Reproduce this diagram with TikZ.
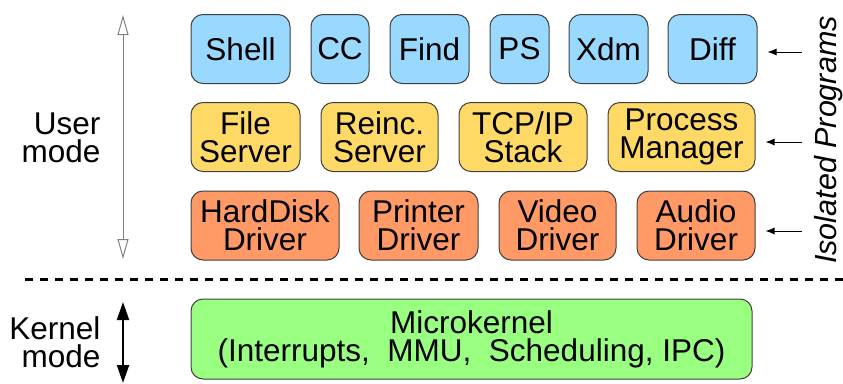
\documentclass[tikz,border=0pt]{standalone}
\usepackage{fontspec}
\setmainfont{Liberation Sans}
\usetikzlibrary{arrows.meta,positioning}

\definecolor{userblue}{RGB}{153,217,255}
\definecolor{serveryellow}{RGB}{255,217,102}
\definecolor{driverorange}{RGB}{255,153,102}
\definecolor{kernelgreen}{RGB}{153,255,128}

\begin{document}
\begin{tikzpicture}[
    x=1pt, y=-1pt,
    node distance = 20pt,
    every node/.style={font=\fontsize{31.5}{28}\selectfont},
    box/.style={
        draw=black!75,
        line width=1pt,
        rounded corners=12pt,
        align=center,
        minimum height=69pt,
        inner sep=0pt
    },
    prog/.style={box, fill=userblue},
    server/.style={box, fill=serveryellow},
    driver/.style={box, fill=driverorange},
    pointer/.style={-{Latex[length=9pt,width=7pt]}, line width=0.9pt},
    modearrow/.style={{Triangle[open,length=20pt,width=11pt]}-{Triangle[open,length=20pt,width=11pt]}, black!50, line width=1pt},
    kernelarrow/.style={{Triangle[length=18pt,width=12pt]}-{Triangle[length=18pt,width=12pt]}, line width=2pt},
    divider/.style={line width=3pt, dash pattern=on 8pt off 7pt}
]
\useasboundingbox (0,0) rectangle (843,383);

% Isolated programs (top row)
\node[prog, minimum width=99pt] (shell) at (240.5,49) {Shell};
\node[prog, minimum width=58pt, right=of shell] (cc) {CC};
\node[prog, minimum width=79pt, right=of cc] (find) {Find};
\node[prog, minimum width=59pt, right=of find] (ps) {PS};
\node[prog, minimum width=79pt, right=19pt of ps] (xdm) {Xdm};
\node[prog, minimum width=89pt, right=19pt of xdm] (diff) {Diff};

% Servers
\node[server, minimum width=109pt] (fs) at (245.5,137) {File\\Server};
\node[server, minimum width=117pt, right=of fs] (rs) {Reinc.\\Server};
\node[server, minimum width=128pt, right=of rs] (tcp) {TCP/IP\\Stack};
\node[server, minimum width=147pt, right=of tcp] (pm) {Process\\Manager};

% Drivers
\node[driver, minimum width=148pt] (disk) at (265,225.5) {HardDisk\\Driver};
\node[driver, minimum width=119pt, right=19pt of disk] (printer) {Printer\\Driver};
\node[driver, minimum width=117pt, right=of printer] (video) {Video\\Driver};
\node[driver, minimum width=118pt, right=of video] (audio) {Audio\\Driver};

% Kernel
\node[box, fill=kernelgreen, minimum width=561pt, minimum height=80pt] (mk) at (471.5,339)
    {Microkernel\\(Interrupts,\ \ MMU,\ \ Scheduling, IPC)};

% Mode labels
\node[align=right, anchor=east] (user) at (104,138) {User\\mode};
\node[align=right, anchor=east] (kernel) at (104,342) {Kernel\\mode};
\node[rotate=90, inner sep=0pt, font=\fontsize{30.5}{28}\selectfont\itshape] (iso) at (829,140) {Isolated Programs};

% Mode arrows and divider
\coordinate (utop) at (123,15);
\coordinate (ubot) at (123,259);
\coordinate (ktop) at (123,302);
\coordinate (kbot) at (123,383);
\coordinate (dl) at (25,279);
\coordinate (dr) at (843,279);
\draw[modearrow] (utop) -- (ubot);
\draw[kernelarrow] (ktop) -- (kbot);
\draw[divider] (dl) -- (dr);

% Pointers to isolated rows
\coordinate (p1) at (802,52);
\coordinate (p2) at (802,142);
\coordinate (p3) at (802,231);
\draw[pointer, shorten >=10pt] (p1) -- (diff.east |- p1);
\draw[pointer, shorten >=10pt] (p2) -- (pm.east |- p2);
\draw[pointer, shorten >=10pt] (p3) -- (audio.east |- p3);

\end{tikzpicture}
\end{document}
